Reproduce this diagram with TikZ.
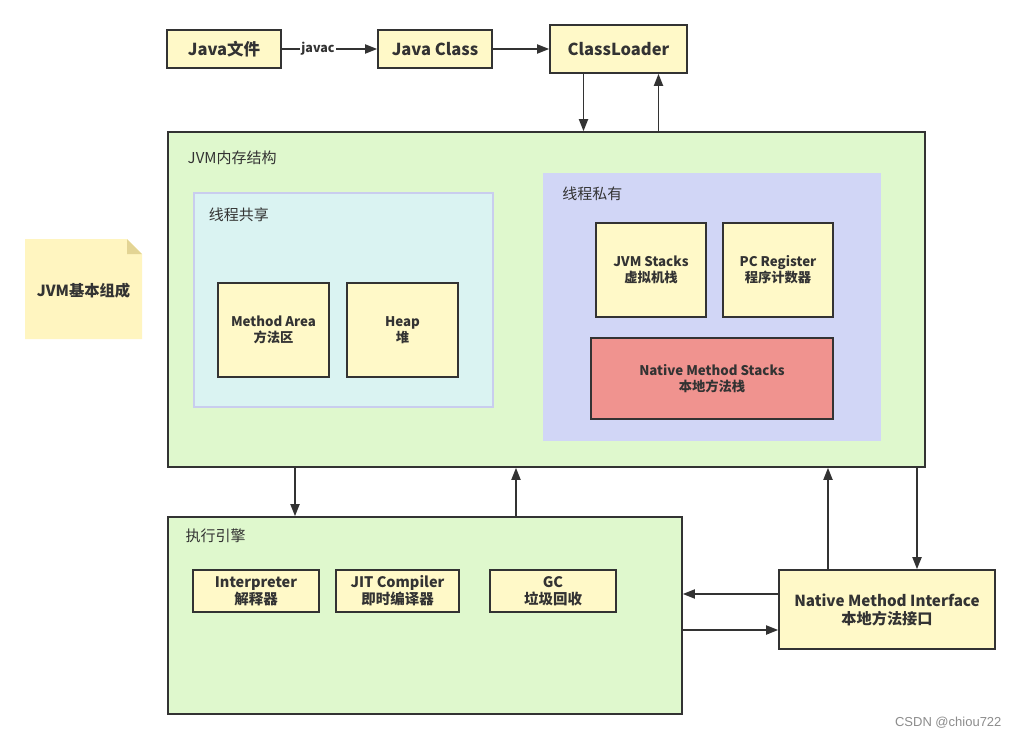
\documentclass[tikz,border=0pt]{standalone}
\usepackage{fontspec}
\setmainfont{Noto Sans CJK SC}
\newfontfamily\markfont{Liberation Sans}
\usetikzlibrary{calc,positioning,arrows.meta}

\definecolor{boxyellow}{HTML}{FFF9C8}
\definecolor{jvmgreen}{HTML}{DFF8CD}
\definecolor{sharedcyan}{HTML}{DAF3F2}
\definecolor{sharedline}{HTML}{C9CDEE}
\definecolor{privblue}{HTML}{D1D6F6}
\definecolor{nativered}{HTML}{F0938F}
\definecolor{notefill}{HTML}{FFF5C0}
\definecolor{notefold}{HTML}{E3D494}
\definecolor{ink}{HTML}{333333}

\tikzset{
	box/.style={draw=ink, line width=1.6pt, fill=boxyellow, align=center, inner sep=0pt, text=ink,
		font=\bfseries\fontsize{13.3}{16}\selectfont},
	unitbox/.style={box, font=\bfseries\fontsize{14.5}{17}\selectfont},
	bigbox/.style={box, font=\bfseries\fontsize{16.5}{19}\selectfont},
	area/.style={draw=ink, line width=1.6pt, fill=jvmgreen, inner sep=0pt},
	title/.style={anchor=west, text=ink, font=\fontsize{15}{18}\selectfont},
	flow/.style={draw=ink, line width=1.8pt, -{Triangle[length=12pt,width=9pt]}}
}

\begin{document}
\begin{tikzpicture}[x=1pt,y=-1pt]
	\useasboundingbox[fill=white] (0,0) rectangle (1020,739);

	% class file chain
	\node[bigbox, minimum width=114pt, minimum height=38pt] (jfile) at (224,49) {Java文件};
	\node[bigbox, minimum width=114pt, minimum height=38pt] (jclass) at (435,49) {Java Class};
	\node[bigbox, minimum width=137pt, minimum height=48pt] (loader) at (618.5,49) {ClassLoader};
	\draw[flow] (jfile) -- node[pos=0.38, fill=white, inner sep=1pt, text=ink, font=\bfseries\fontsize{12.5}{14}\selectfont] (javac) {javac} (jclass);
	\draw[flow] (jclass) -- (loader);

	% memory layout
	\node[area, minimum width=757pt, minimum height=335pt] (jvm) at (546.5,299.5) {};
	\node[title] (jvmt) at ($(jvm.north west)+(17,27)$) {JVM内存结构};

	\node[draw=sharedline, line width=1.2pt, fill=sharedcyan, minimum width=299pt, minimum height=214pt, inner sep=0pt] (shared) at (343.5,300) {};
	\node[title] (sharedt) at ($(shared.north west)+(12,22)$) {线程共享};
	\node[box, minimum width=111pt, minimum height=94pt] (marea) at (273.5,330) {Method Area\\方法区};
	\node[box, minimum width=111pt, minimum height=94pt] (heap) at (402.5,330) {Heap\\堆};

	\node[fill=privblue, minimum width=338pt, minimum height=268pt, inner sep=0pt] (private) at (712,307) {};
	\node[title] (privatet) at ($(private.north west)+(16,21)$) {线程私有};
	\node[box, minimum width=110pt, minimum height=94pt] (jstack) at (651,270) {JVM Stacks\\虚拟机栈};
	\node[box, minimum width=110pt, minimum height=94pt] (pcreg) at (778,270) {PC Register\\程序计数器};
	\node[box, fill=nativered, minimum width=242pt, minimum height=81pt] (nstack) at (712,378.5) {Native Method Stacks\\本地方法栈};

	\draw[flow] ([xshift=-35pt]loader.south) -- ([xshift=-35pt]loader.south |- jvm.north);
	\draw[flow] ([xshift=40pt]loader.south |- jvm.north) -- ([xshift=40pt]loader.south);

	% execution engine
	\node[area, minimum width=514pt, minimum height=197pt] (engine) at (425,615.5) {};
	\node[title] (enginet) at ($(engine.north west)+(15,20)$) {执行引擎};
	\node[unitbox, minimum width=126pt, minimum height=42pt] (interp) at (256,591) {Interpreter\\解释器};
	\node[unitbox, minimum width=123pt, minimum height=42pt] (jit) at (397.5,591) {JIT Compiler\\即时编译器};
	\node[unitbox, minimum width=126pt, minimum height=42pt] (gc) at (553,591) {GC\\垃圾回收};

	\draw[flow] ([xshift=-130pt]engine.north |- jvm.south) -- ([xshift=-130pt]engine.north);
	\draw[flow] ([xshift=91pt]engine.north) -- ([xshift=91pt]engine.north |- jvm.south);

	% native interface
	\node[box, font=\bfseries\fontsize{15.2}{18}\selectfont, minimum width=216pt, minimum height=79pt] (nmi) at (887,609.5) {Native Method Interface\\本地方法接口};
	\draw[flow] ([xshift=-59pt]nmi.north) -- ([xshift=-59pt]nmi.north |- jvm.south);
	\draw[flow] ([xshift=30pt]nmi.north |- jvm.south) -- ([xshift=30pt]nmi.north);
	\draw[flow] ([yshift=15.5pt]nmi.west) -- ([yshift=15.5pt]nmi.west -| engine.east);
	\draw[flow] ([yshift=-20.5pt]nmi.west -| engine.east) -- ([yshift=-20.5pt]nmi.west);

	% note
	\fill[notefill] (25,239) -- (127,239) -- (142,254) -- (142,339) -- (25,339) -- cycle;
	\fill[notefold] (127,239) -- (142,254) -- (127,254) -- cycle;
	\node[text=ink, font=\bfseries\fontsize{15.3}{18}\selectfont] (note) at (83.5,291) {JVM基本组成};

	\node[anchor=east, text=black!45, font=\markfont\fontsize{13}{15}\selectfont] (mark) at (1005,723) {CSDN @chiou722};
\end{tikzpicture}
\end{document}
